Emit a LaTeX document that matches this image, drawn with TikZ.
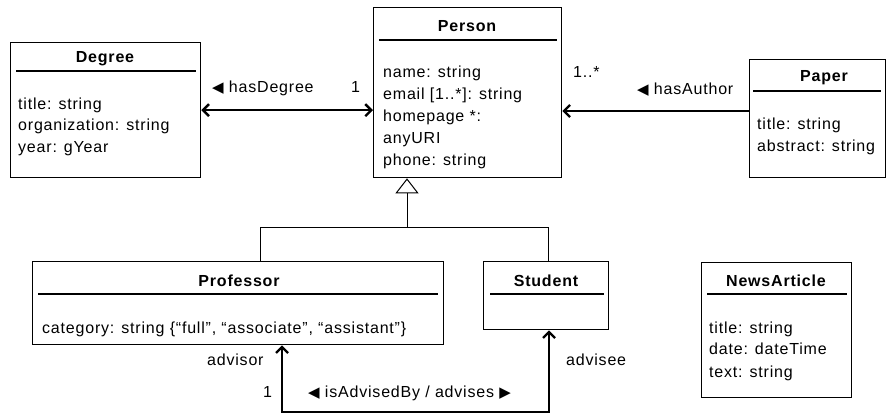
\documentclass[tikz,border=0pt]{standalone}
\usepackage{fontspec}
\setmainfont[LetterSpace=5]{Liberation Sans}
\newfontfamily\symf{DejaVu Sans}
\usetikzlibrary{arrows.meta}
\newcommand{\lefttri}{{\symf\fontsize{15}{15}\selectfont ◀}}
\newcommand{\righttri}{{\symf\fontsize{15}{15}\selectfont ▶}}
\begin{document}
\begin{tikzpicture}[x=1pt,y=-1pt,
  every node/.style={font=\fontsize{16}{18}\selectfont},
  classbox/.style={draw, line width=1.3pt, inner sep=0pt, anchor=north west},
  ctitle/.style={font=\fontsize{16}{18}\selectfont\bfseries, anchor=base, inner sep=0pt},
  attr/.style={anchor=base west, inner sep=0pt},
  hdr/.style={line width=1.8pt},
  tipb/.tip={Straight Barb[length=6pt,width=12pt]},
  assoc/.style={line width=2.4pt, -tipb},
  biassoc/.style={line width=2.4pt, tipb-tipb},
  genline/.style={line width=1pt},
  genarrow/.style={line width=1pt, -{Triangle[open,length=15pt,width=23pt]}}
]
\useasboundingbox (0,0) rectangle (886,414);

% Degree
\node[classbox, minimum width=190pt, minimum height=135pt] (degree) at (10,42) {};
\node[ctitle] (degreeT) at (105,63) {Degree};
\draw[hdr] (16,71) -- (196,71);
\node[attr] (degreeA1) at (18,110) {title: string};
\node[attr] (degreeA2) at (18,131) {organization: string};
\node[attr] (degreeA3) at (18,153) {year: gYear};

% Person
\node[classbox, minimum width=188pt, minimum height=170pt] (person) at (373,7) {};
\node[ctitle] (personT) at (467,32) {Person};
\draw[hdr] (379,40) -- (557,40);
\node[attr] (personA1) at (383,78) {name: string};
\node[attr] (personA2) at (383,100) {email [1..*]: string};
\node[attr] (personA3) at (383,122) {homepage *:};
\node[attr] (personA4) at (383,144) {anyURI};
\node[attr] (personA5) at (383,166) {phone: string};

% Paper
\node[classbox, minimum width=136pt, minimum height=118pt] (paper) at (749,59) {};
\node[ctitle] (paperT) at (824,82) {Paper};
\draw[hdr] (753,91) -- (881,91);
\node[attr] (paperA1) at (757,130) {title: string};
\node[attr] (paperA2) at (757,152) {abstract: string};

% Professor
\node[classbox, minimum width=411pt, minimum height=83pt] (professor) at (32,261) {};
\node[ctitle] (professorT) at (239,286) {Professor};
\draw[hdr] (38,294) -- (438,294);
\node[attr] (professorA1) at (42,333) {category: string \{“full”, “associate”, “assistant”\}};

% Student
\node[classbox, minimum width=125pt, minimum height=68pt] (student) at (483,261) {};
\node[ctitle] (studentT) at (546,286) {Student};
\draw[hdr] (490,294) -- (604,294);

% NewsArticle
\node[classbox, minimum width=150pt, minimum height=135pt] (news) at (701,262) {};
\node[ctitle] (newsT) at (776,286) {NewsArticle};
\draw[hdr] (707,294) -- (847,294);
\node[attr] (newsA1) at (709,333) {title: string};
\node[attr] (newsA2) at (709,354) {date: dateTime};
\node[attr] (newsA3) at (709,377) {text: string};

% Generalization
\coordinate (gen) at (407,228);
\coordinate (gp) at (260,228);
\coordinate (gs) at (548,228);
\draw[genline] (professor.north -| gp) -- (gp) -- (gs) -- (student.north -| gs);
\draw[genarrow] (gen) -- (person.south -| gen);

% hasDegree
\draw[biassoc] (degree.east) -- (degree.east -| person.west);
\node[attr] (hasDegreeL) at (212,93) {\lefttri\ hasDegree};
\node[attr] (hasDegreeM) at (351,93) {1};

% hasAuthor
\coordinate (pa) at (749,111);
\draw[assoc] (pa) -- (pa -| person.east);
\node[attr] (hasAuthorL) at (637,95) {\lefttri\ hasAuthor};
\node[attr] (hasAuthorM) at (573,78) {1..*};

% isAdvisedBy
\coordinate (ad1) at (282,412);
\coordinate (ad2) at (549,412);
\draw[biassoc, line join=miter] (professor.south -| ad1) -- (ad1) -- (ad2) -- (student.south -| ad2);
\node[attr] (advisorL) at (207,365) {advisor};
\node[attr] (advisorM) at (263,397) {1};
\node[attr] (advisedL) at (308,397) {\lefttri\ isAdvisedBy / advises \righttri};
\node[attr] (adviseeL) at (566,365) {advisee};
\end{tikzpicture}
\end{document}
